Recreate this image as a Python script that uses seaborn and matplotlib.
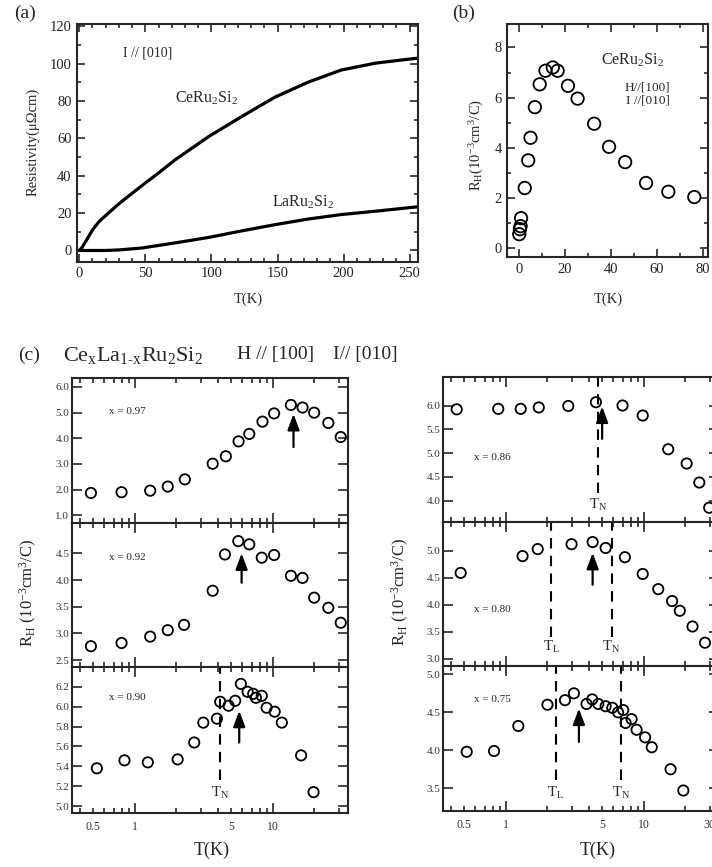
import numpy as np
import pandas as pd
import matplotlib
matplotlib.use('Agg')
import matplotlib.pyplot as plt
import matplotlib.ticker as mticker
import seaborn as sns

# (a) resistivity, I // [010]
T_ce = [0, 2, 5, 10, 15, 22, 30, 47, 60, 72.5, 98, 123, 148, 173, 198, 224, 251, 258]
rho_ce = [0, 1.5, 5, 11, 15.5, 20, 25, 34.5, 41.5, 48.5, 61, 71.7, 82, 90, 96.5, 100.2, 102.5, 103]
T_la = [0, 20, 30, 47, 72, 98, 123, 148, 173, 198, 224, 251, 258]
rho_la = [0, 0, 0.3, 1.3, 4, 7, 10.5, 13.8, 16.8, 19.2, 21, 23, 23.5]

# (b) Hall coefficient of CeRu2Si2
T_b = [0.2, 0.5, 0.8, 1.0, 2.6, 4.1, 5.1, 7.0, 9.1, 11.6, 14.8, 16.9, 21.4, 25.6, 32.8, 39.3, 46.3, 55.4, 65.1, 76.4]
RH_b = [0.56, 0.76, 0.88, 1.2, 2.4, 3.5, 4.4, 5.62, 6.53, 7.07, 7.2, 7.07, 6.47, 5.96, 4.96, 4.04, 3.43, 2.6, 2.25, 2.04]

# (c) CexLa1-xRu2Si2, H // [100], I // [010]
T_097 = [0.48, 0.80, 1.29, 1.73, 2.30, 3.66, 4.56, 5.64, 6.74, 8.4, 10.2, 13.5, 16.4, 19.9, 25.2, 31.0]
RH_097 = [1.87, 1.9, 1.96, 2.12, 2.4, 3.01, 3.3, 3.88, 4.17, 4.65, 4.97, 5.3, 5.2, 5.0, 4.6, 4.05]
T_092 = [0.48, 0.80, 1.29, 1.73, 2.27, 3.66, 4.49, 5.61, 6.74, 8.3, 10.2, 13.5, 16.4, 19.9, 25.2, 31.0]
RH_092 = [2.76, 2.82, 2.94, 3.06, 3.16, 3.80, 4.48, 4.73, 4.67, 4.42, 4.47, 4.08, 4.04, 3.67, 3.48, 3.20]
T_090 = [0.53, 0.84, 1.24, 2.04, 2.69, 3.13, 3.93, 4.15, 4.77, 5.33, 5.86, 6.56, 7.2, 7.53, 8.3, 9.0, 10.3, 11.6, 16.0, 19.7]
RH_090 = [5.38, 5.46, 5.44, 5.47, 5.64, 5.84, 5.88, 6.05, 6.01, 6.06, 6.23, 6.15, 6.13, 6.09, 6.11, 5.99, 5.95, 5.84, 5.51, 5.14]
T_086 = [0.44, 0.88, 1.28, 1.73, 2.83, 4.49, 7.0, 9.8, 15.0, 20.4, 25.2, 29.7]
RH_086 = [5.92, 5.93, 5.93, 5.96, 5.99, 6.07, 6.0, 5.79, 5.08, 4.78, 4.38, 3.85]
T_080 = [0.47, 1.32, 1.70, 2.99, 4.25, 5.28, 7.28, 9.8, 12.7, 16.0, 18.2, 22.5, 27.7]
RH_080 = [4.59, 4.9, 5.03, 5.12, 5.16, 5.05, 4.88, 4.57, 4.29, 4.07, 3.89, 3.60, 3.30]
T_075 = [0.52, 0.82, 1.23, 2.0, 2.68, 3.11, 3.84, 4.22, 4.67, 5.28, 5.9, 6.5, 7.08, 7.37, 8.14, 8.85, 10.2, 11.4, 15.6, 19.3]
RH_075 = [3.98, 3.99, 4.32, 4.60, 4.66, 4.75, 4.61, 4.67, 4.61, 4.58, 4.56, 4.50, 4.53, 4.36, 4.41, 4.27, 4.17, 4.04, 3.75, 3.47]

conc_labels = ['x = 0.97', 'x = 0.92', 'x = 0.90', 'x = 0.86', 'x = 0.80', 'x = 0.75']
yticks_c = [[1.0, 2.0, 3.0, 4.0, 5.0, 6.0], [2.5, 3.0, 3.5, 4.0, 4.5], [5.0, 5.2, 5.4, 5.6, 5.8, 6.0, 6.2],
            [4.0, 4.5, 5.0, 5.5, 6.0], [3.0, 3.5, 4.0, 4.5, 5.0], [3.5, 4.0, 4.5, 5.0]]
# arrow: temperature, tail value, head value
arrow_T = [14.1, 5.93, 5.7, 4.98, 4.25, 3.38]
arrow_from = [3.66, 3.95, 5.64, 5.30, 4.37, 4.11]
arrow_to = [4.95, 4.50, 5.96, 5.98, 4.96, 4.55]
# transition temperatures (dashed lines)
trans = [[], [], [(4.12, 'N')], [(4.62, 'N')], [(2.12, 'L'), (5.83, 'N')], [(2.29, 'L'), (6.81, 'N')]]

W, H = 712, 867
sns.set_style('ticks')
plt.rcParams['font.family'] = ['Liberation Serif', 'DejaVu Serif']
plt.rcParams['mathtext.fontset'] = 'custom'
plt.rcParams['mathtext.rm'] = 'Liberation Serif'
plt.rcParams['mathtext.it'] = 'Liberation Serif:italic'
plt.rcParams['axes.linewidth'] = 1.5

fig = plt.figure(figsize=(W / 100, H / 100), dpi=100)


def rect(l, t, r, b):
    return [l / W, 1 - b / H, (r - l) / W, (b - t) / H]


def circles(ax, x, y, s):
    sns.scatterplot(x=x, y=y, ax=ax, marker='o', s=s, color='k',
                    facecolor='none', edgecolor='k', linewidth=1.3, zorder=3)


# ---- (a)
ax = fig.add_axes(rect(77.3, 24.3, 418.3, 261.7))
sns.lineplot(x=T_ce, y=rho_ce, ax=ax, color='k', lw=2.3)
sns.lineplot(x=T_la, y=rho_la, ax=ax, color='k', lw=2.3)
ax.set_xlim(-1.5, 256.5)
ax.set_ylim(-6, 121)
ax.xaxis.set_major_locator(mticker.MultipleLocator(50))
ax.xaxis.set_minor_locator(mticker.MultipleLocator(10))
ax.yaxis.set_major_locator(mticker.MultipleLocator(20))
ax.yaxis.set_minor_locator(mticker.MultipleLocator(10))
ax.tick_params(which='both', direction='in', top=True, right=True, labelsize=10.5,
               labelcolor='#222', width=1.2, pad=4)
ax.tick_params(which='major', length=6)
ax.tick_params(which='minor', length=3)
ax.set_xlabel('')
ax.set_ylabel('')
ax.text(0.207, 0.879, 'I // [010]', transform=ax.transAxes, ha='center', va='center', fontsize=10)
ax.text(0.38, 0.69, r'CeRu$_2$Si$_2$', transform=ax.transAxes, ha='center', va='center', fontsize=11.5)
ax.text(0.662, 0.251, r'LaRu$_2$Si$_2$', transform=ax.transAxes, ha='center', va='center', fontsize=11.5)
fig.text(25 / W, 1 - 13 / H, '(a)', ha='center', va='center', fontsize=14)
fig.text(33 / W, 1 - 142 / H, 'Resistivity(μΩcm)', rotation=90, ha='center', va='center', fontsize=10.5)
fig.text(248 / W, 1 - 299 / H, 'T(K)', ha='center', va='center', fontsize=10.5)

# ---- (b)
ax = fig.add_axes(rect(507.3, 24.3, 708.3, 257.3))
circles(ax, T_b, RH_b, 80)
ax.set_xlim(-5, 82.5)
ax.set_ylim(-0.36, 8.92)
ax.xaxis.set_major_locator(mticker.MultipleLocator(20))
ax.xaxis.set_minor_locator(mticker.MultipleLocator(10))
ax.yaxis.set_major_locator(mticker.MultipleLocator(2))
ax.yaxis.set_minor_locator(mticker.MultipleLocator(1))
ax.tick_params(which='both', direction='in', top=True, right=True, labelsize=10.5,
               labelcolor='#222', width=1.2, pad=4)
ax.tick_params(which='major', length=6)
ax.tick_params(which='minor', length=3)
ax.set_xlabel('')
ax.set_ylabel('')
ax.text(0.623, 0.847, r'CeRu$_2$Si$_2$', transform=ax.transAxes, ha='center', va='center', fontsize=11.5)
ax.text(0.809, 0.728, 'H//[100]', transform=ax.transAxes, ha='right', va='center', fontsize=9.5)
ax.text(0.809, 0.675, 'I //[010]', transform=ax.transAxes, ha='right', va='center', fontsize=9.5)
fig.text(464 / W, 1 - 13 / H, '(b)', ha='center', va='center', fontsize=14)
fig.text(477 / W, 1 - 145 / H, r'R$_{\mathrm{H}}$(10$^{-3}$cm$^{3}$/C)', rotation=90,
         ha='center', va='center', fontsize=10.5)
fig.text(608 / W, 1 - 299 / H, 'T(K)', ha='center', va='center', fontsize=10.5)

# ---- (c)
fig.text(18 / W, 1 - 355 / H, '(c)', ha='left', va='center', fontsize=14)
fig.text(63 / W, 1 - 355 / H, r'Ce$_{\mathrm{x}}$La$_{\mathrm{1\text{-}x}}$Ru$_2$Si$_2$',
         ha='left', va='center', fontsize=16)
fig.text(237 / W, 1 - 355 / H, 'H // [100]', ha='left', va='center', fontsize=14)
fig.text(333 / W, 1 - 355 / H, 'I// [010]', ha='left', va='center', fontsize=14)

c_T = [T_097, T_092, T_090, T_086, T_080, T_075]
c_RH = [RH_097, RH_092, RH_090, RH_086, RH_080, RH_075]
c_rects = [(72, 378, 348, 523), (72, 523, 348, 667), (72, 667, 348, 813),
           (443, 377, 719, 522), (443, 522, 719, 666), (443, 666, 719, 811)]
c_ylims = [(0.7, 6.35), (2.37, 5.07), (4.93, 6.40), (3.55, 6.6), (2.87, 5.53), (3.2, 5.11)]
label_pos = [(0.2, 0.77), (0.2, 0.757), (0.2, 0.79), (0.18, 0.443), (0.18, 0.39), (0.18, 0.77)]
dash_stop = [0, 0, 0.226, 0.2, 0.2, 0.214]
dash_text = [0, 0, 0.137, 0.117, 0.13, 0.124]

minor_ticks = [0.4, 0.5, 0.6, 0.7, 0.8, 0.9, 2, 3, 4, 5, 6, 7, 8, 9, 20, 30]

for i in range(6):
    ax = fig.add_axes(rect(*c_rects[i]))
    circles(ax, c_T[i], c_RH[i], 55)
    ax.set_xscale('log')
    ax.set_xlim(0.35, 35)
    ax.set_ylim(*c_ylims[i])
    ax.xaxis.set_major_locator(mticker.FixedLocator([1, 10]))
    ax.xaxis.set_minor_locator(mticker.FixedLocator(minor_ticks))
    ax.yaxis.set_major_locator(mticker.FixedLocator(yticks_c[i]))
    ax.yaxis.set_major_formatter(mticker.FormatStrFormatter('%.1f'))
    ax.tick_params(which='both', direction='in', top=True, right=True, width=1.2,
                   labelsize=8, labelcolor='#333', pad=2)
    ax.tick_params(which='major', length=7)
    ax.tick_params(which='minor', length=3.5)
    bottom = i in (2, 5)
    if bottom:
        shown = {0.5: '0.5', 5: '5', 30: '30'} if i == 5 else {0.5: '0.5', 5: '5'}
        ax.xaxis.set_major_formatter(mticker.FixedFormatter(['1', '10']))
        ax.xaxis.set_minor_formatter(mticker.FuncFormatter(lambda v, p, d=shown: d.get(round(v, 2), '')))
        ax.tick_params(axis='x', which='both', labelsize=8.5, pad=6)
    else:
        ax.tick_params(axis='x', which='both', labelbottom=False)
    ax.set_xlabel('')
    ax.set_ylabel('')
    ax.text(label_pos[i][0], label_pos[i][1], conc_labels[i], transform=ax.transAxes,
            ha='center', va='center', fontsize=8)
    ax.annotate('', xy=(arrow_T[i], arrow_to[i]), xytext=(arrow_T[i], arrow_from[i]),
                arrowprops=dict(arrowstyle='-|>,head_length=0.8,head_width=0.3',
                                color='k', lw=1.6, mutation_scale=12, shrinkA=0, shrinkB=0))
    for t_tr, kind in trans[i]:
        ax.axvline(t_tr, ymin=dash_stop[i], ymax=1, color='k', lw=1.5, ls=(0, (5, 3.5)))
        ax.text(t_tr, dash_text[i], r'T$_{\mathrm{%s}}$' % kind, transform=ax.get_xaxis_transform(),
                ha='center', va='center', fontsize=10.5)

fig.text(28 / W, 1 - 593 / H, r'R$_{\mathrm{H}}$ (10$^{-3}$cm$^{3}$/C)', rotation=90,
         ha='center', va='center', fontsize=12)
fig.text(400 / W, 1 - 592 / H, r'R$_{\mathrm{H}}$ (10$^{-3}$cm$^{3}$/C)', rotation=90,
         ha='center', va='center', fontsize=12)
fig.text(212 / W, 1 - 850 / H, 'T(K)', ha='center', va='center', fontsize=13)
fig.text(598 / W, 1 - 850 / H, 'T(K)', ha='center', va='center', fontsize=13)

fig.savefig('out.png', dpi=100)
